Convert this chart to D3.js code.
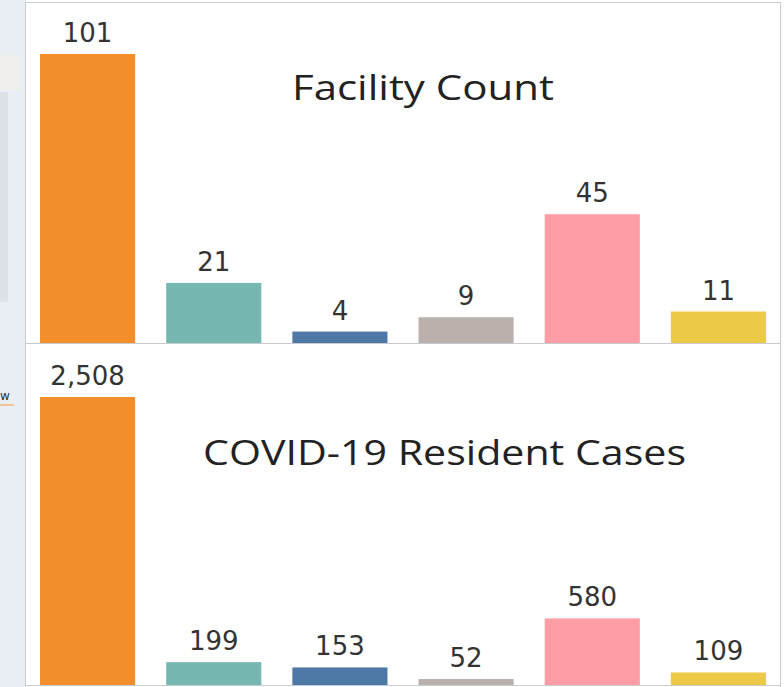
<!DOCTYPE html>
<html>
<head>
<meta charset="utf-8">
<script src="https://cdn.jsdelivr.net/npm/d3@7"></script>
<style>
  body { margin: 0; background: #fff; }
  svg { display: block; }
</style>
</head>
<body>
<div id="chart-area"></div>
<script>
// six facility groups, colour is the only key shown in the picture
var categories = ["A", "B", "C", "D", "E", "F"];
var colors = ["#f28e2b", "#76b7b2", "#4e79a7", "#bab0ac", "#ff9da7", "#edc948"];
var facilityCount = [101, 21, 4, 9, 45, 11];
var residentCases = [2508, 199, 153, 52, 580, 109];

var width = 784, height = 687;

var svg = d3.select("#chart-area").append("svg")
    .attr("width", width)
    .attr("height", height);

// left strip of the neighbouring dashboard pane
svg.append("rect")
    .attr("x", 0).attr("y", 0)
    .attr("width", 26).attr("height", height)
    .attr("fill", "#e9edf4");
svg.append("rect")
    .attr("x", 0).attr("y", 92)
    .attr("width", 8).attr("height", 210)
    .attr("fill", "#dde1e8");
svg.append("rect")
    .attr("x", 0).attr("y", 55)
    .attr("width", 20).attr("height", 35)
    .attr("fill", "#f0efec");
svg.append("text")
    .attr("x", 0).attr("y", 400)
    .style("font-family", "DejaVu Sans")
    .style("font-size", "12px")
    .attr("fill", "#333")
    .text("w");
svg.append("line")
    .attr("x1", 0).attr("x2", 14)
    .attr("y1", 405).attr("y2", 405)
    .attr("stroke", "#f5b57a")
    .attr("stroke-width", 1.5);

// panel
svg.append("rect")
    .attr("x", 25.5).attr("y", 2.5)
    .attr("width", 755).attr("height", height)
    .attr("fill", "#fff")
    .attr("stroke", "#c8cbd0");

var x = d3.scaleBand()
    .domain(categories)
    .range([26, 780])
    .paddingInner(0.246)
    .paddingOuter(0.111);

// the source screenshot is stretched sideways, so titles get a fixed length
var panels = [
    { title: "Facility Count", values: facilityCount, base: 343, top: 54, titleX: 423, titleY: 100, titleLen: 262 },
    { title: "COVID-19 Resident Cases", values: residentCases, base: 685, top: 397, titleX: 444.5, titleY: 465, titleLen: 483 }
];

panels.forEach(function(p) {
    var y = d3.scaleLinear()
        .domain([0, d3.max(p.values)])
        .range([p.base, p.top]);

    var g = svg.append("g");

    g.selectAll("rect")
        .data(p.values)
        .enter().append("rect")
        .attr("x", (d, i) => x(categories[i]))
        .attr("y", (d) => y(d))
        .attr("width", x.bandwidth())
        .attr("height", (d) => y(0) - y(d))
        .attr("fill", (d, i) => colors[i]);

    g.append("line")
        .attr("x1", 26).attr("x2", 780)
        .attr("y1", p.base + 0.5).attr("y2", p.base + 0.5)
        .attr("stroke", "#c8cbd0");

    g.selectAll(".label")
        .data(p.values)
        .enter().append("text")
        .attr("class", "label")
        .attr("x", (d, i) => x(categories[i]) + x.bandwidth() / 2)
        .attr("y", (d) => y(d) - 12)
        .style("text-anchor", "middle")
        .style("font-family", "DejaVu Sans")
        .style("font-size", "26px")
        .attr("fill", "#333")
        .text(d3.format(","));

    g.append("text")
        .attr("x", p.titleX)
        .attr("y", p.titleY)
        .attr("textLength", p.titleLen)
        .attr("lengthAdjust", "spacingAndGlyphs")
        .style("text-anchor", "middle")
        .style("font-family", "Open Sans")
        .style("font-size", "35px")
        .style("font-weight", 500)
        .attr("fill", "#222")
        .text(p.title);
});
</script>
</body>
</html>
